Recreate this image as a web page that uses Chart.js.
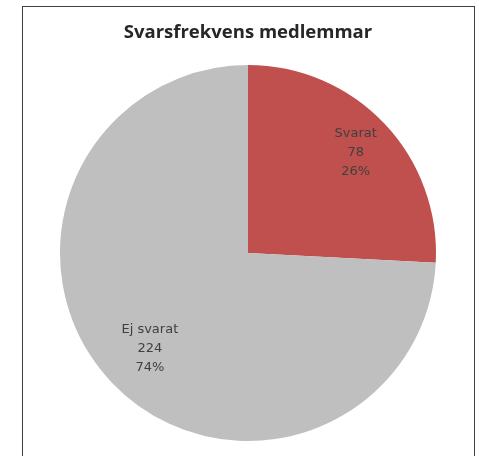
<!DOCTYPE html>
<html>
<head>
<meta charset="utf-8">
<script src="https://cdn.jsdelivr.net/npm/chart.js@4/dist/chart.umd.min.js"></script>
<style>
  html, body { margin: 0; padding: 0; background: #fff; overflow: hidden; }
  #ram { position: absolute; left: 22px; top: 6px; width: 451px; height: 500px; border: 1px solid #404040; }
  #wrap { position: absolute; left: 0; top: 0; width: 479px; height: 456px; }
</style>
</head>
<body>
<div id="ram"></div>
<div id="wrap"><canvas id="pieChart"></canvas></div>
<script>
    const kategorier = ['Svarat', 'Ej svarat'];
    const antal = [78, 224];
    const procent = ['26%', '74%'];

    const farger = ['#C0504D', '#BFBFBF'];
    // hur langt ut etiketten hamnar (andel av radien)
    const etikettAvstand = [0.79, 0.72];

    const etiketter = {
        id: 'etiketter',
        afterDatasetsDraw(chart) {
            const ctx = chart.ctx;
            const meta = chart.getDatasetMeta(0);
            ctx.save();
            ctx.font = '13px "DejaVu Sans"';
            ctx.fillStyle = '#404040';
            ctx.textAlign = 'center';
            ctx.textBaseline = 'middle';
            meta.data.forEach((arc, i) => {
                const p = arc.getProps(['x', 'y', 'startAngle', 'endAngle', 'outerRadius'], true);
                const mitt = (p.startAngle + p.endAngle) / 2;
                const d = p.outerRadius * etikettAvstand[i];
                const x = p.x + Math.cos(mitt) * d;
                const y = p.y + Math.sin(mitt) * d + 2;
                const rader = [kategorier[i], String(antal[i]), procent[i]];
                rader.forEach((t, j) => ctx.fillText(t, x, y + (j - 1) * 19));
            });
            ctx.restore();
        }
    };

    new Chart(document.getElementById('pieChart'), {
        type: 'pie',
        data: {
            labels: kategorier,
            datasets: [{
                data: antal,
                backgroundColor: farger,
                borderWidth: 0
            }]
        },
        options: {
            responsive: true,
            maintainAspectRatio: false,
            animation: false,
            layout: { padding: { left: 60, right: 43, top: 0, bottom: 15 } },
            plugins: {
                legend: { display: false },
                tooltip: { enabled: false },
                title: {
                    display: true,
                    text: 'Svarsfrekvens medlemmar',
                    color: '#262626',
                    font: { family: 'Open Sans', size: 18.5, weight: 'bold', lineHeight: 1.2 },
                    padding: { top: 21.7, bottom: 21.1 }
                }
            }
        },
        plugins: [etiketter]
    });
</script>
</body>
</html>
